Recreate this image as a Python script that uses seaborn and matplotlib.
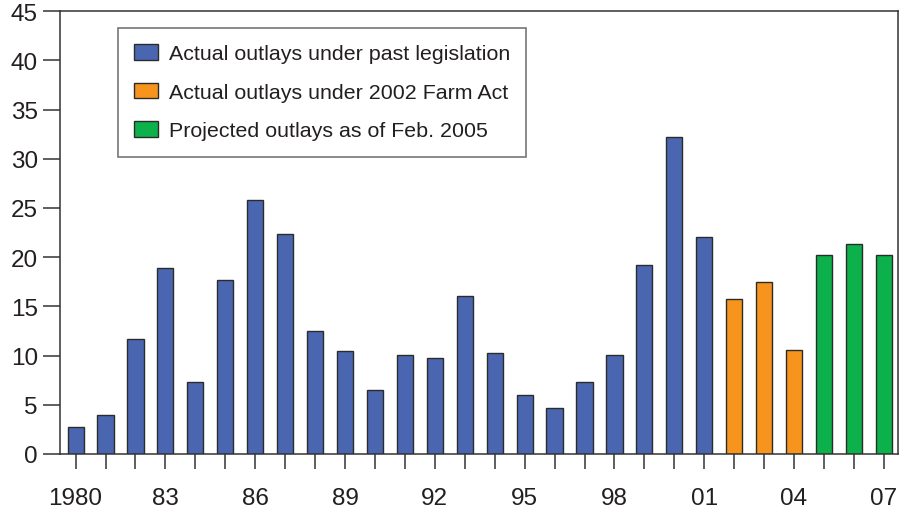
import matplotlib
matplotlib.use("Agg")
import matplotlib.pyplot as plt
import seaborn as sns
import pandas as pd

years = list(range(1980, 2008))
outlays = [2.7, 4.0, 11.7, 18.9, 7.3, 17.7, 25.8, 22.4, 12.5, 10.5,
           6.5, 10.1, 9.8, 16.1, 10.3, 6.0, 4.7, 7.3, 10.1, 19.2,
           32.2, 22.0, 15.7, 17.5, 10.6, 20.2, 21.3, 20.2]
groups = (["Actual outlays under past legislation"] * 22
          + ["Actual outlays under 2002 Farm Act"] * 3
          + ["Projected outlays as of Feb. 2005"] * 3)
group_names = ["Actual outlays under past legislation",
               "Actual outlays under 2002 Farm Act",
               "Projected outlays as of Feb. 2005"]
group_colors = ["#4a66b0", "#f7941d", "#0db14b"]
tick_labels = [("1980" if y == 1980 else str(y)[-2:]) if (y - 1980) % 3 == 0 else "" for y in years]

df = pd.DataFrame({"year": [str(y) for y in years], "value": outlays, "group": groups})

sns.set_theme(style="white")
plt.rcParams["font.family"] = ["Liberation Sans", "DejaVu Sans"]

fig = plt.figure(figsize=(9, 5.1), dpi=100)
ax = fig.add_axes([0.0667, 0.108, 0.931, 0.868])

sns.barplot(data=df, x="year", y="value", hue="group", hue_order=group_names,
            palette=dict(zip(group_names, group_colors)), dodge=False, saturation=1,
            width=0.54, edgecolor="#2b2b2b", linewidth=1.0, ax=ax)

ax.set_xlim(-0.52, 27.47)
ax.set_ylim(0, 45)
ax.set_yticks(range(0, 50, 5))
ax.set_xticks(range(len(years)))
ax.set_xticklabels(tick_labels)
ax.set_xlabel("")
ax.set_ylabel("")

for s in ["left", "right", "top", "bottom"]:
    ax.spines[s].set_visible(True)
    ax.spines[s].set_color("#333333")
    ax.spines[s].set_linewidth(1.1)

ax.tick_params(axis="y", direction="out", length=12, width=1.1, color="#333333",
               labelsize=17.5, labelcolor="#231f20", pad=4, left=True)
ax.tick_params(axis="x", direction="out", length=11, width=1.1, color="#333333",
               labelsize=17.5, labelcolor="#231f20", pad=13, bottom=True)

leg = ax.legend(loc="upper left", bbox_to_anchor=(0.069, 0.962), frameon=True,
                fancybox=False, edgecolor="#555555", fontsize=15.4,
                handlelength=1.15, handleheight=0.75, handletextpad=0.5,
                labelspacing=0.9, borderpad=0.75, borderaxespad=0)
leg.get_frame().set_linewidth(1.2)
for h in leg.legend_handles:
    h.set_edgecolor("#2b2b2b")
    h.set_linewidth(1.0)
for t in leg.get_texts():
    t.set_color("#231f20")

fig.savefig("out.png", dpi=100)
